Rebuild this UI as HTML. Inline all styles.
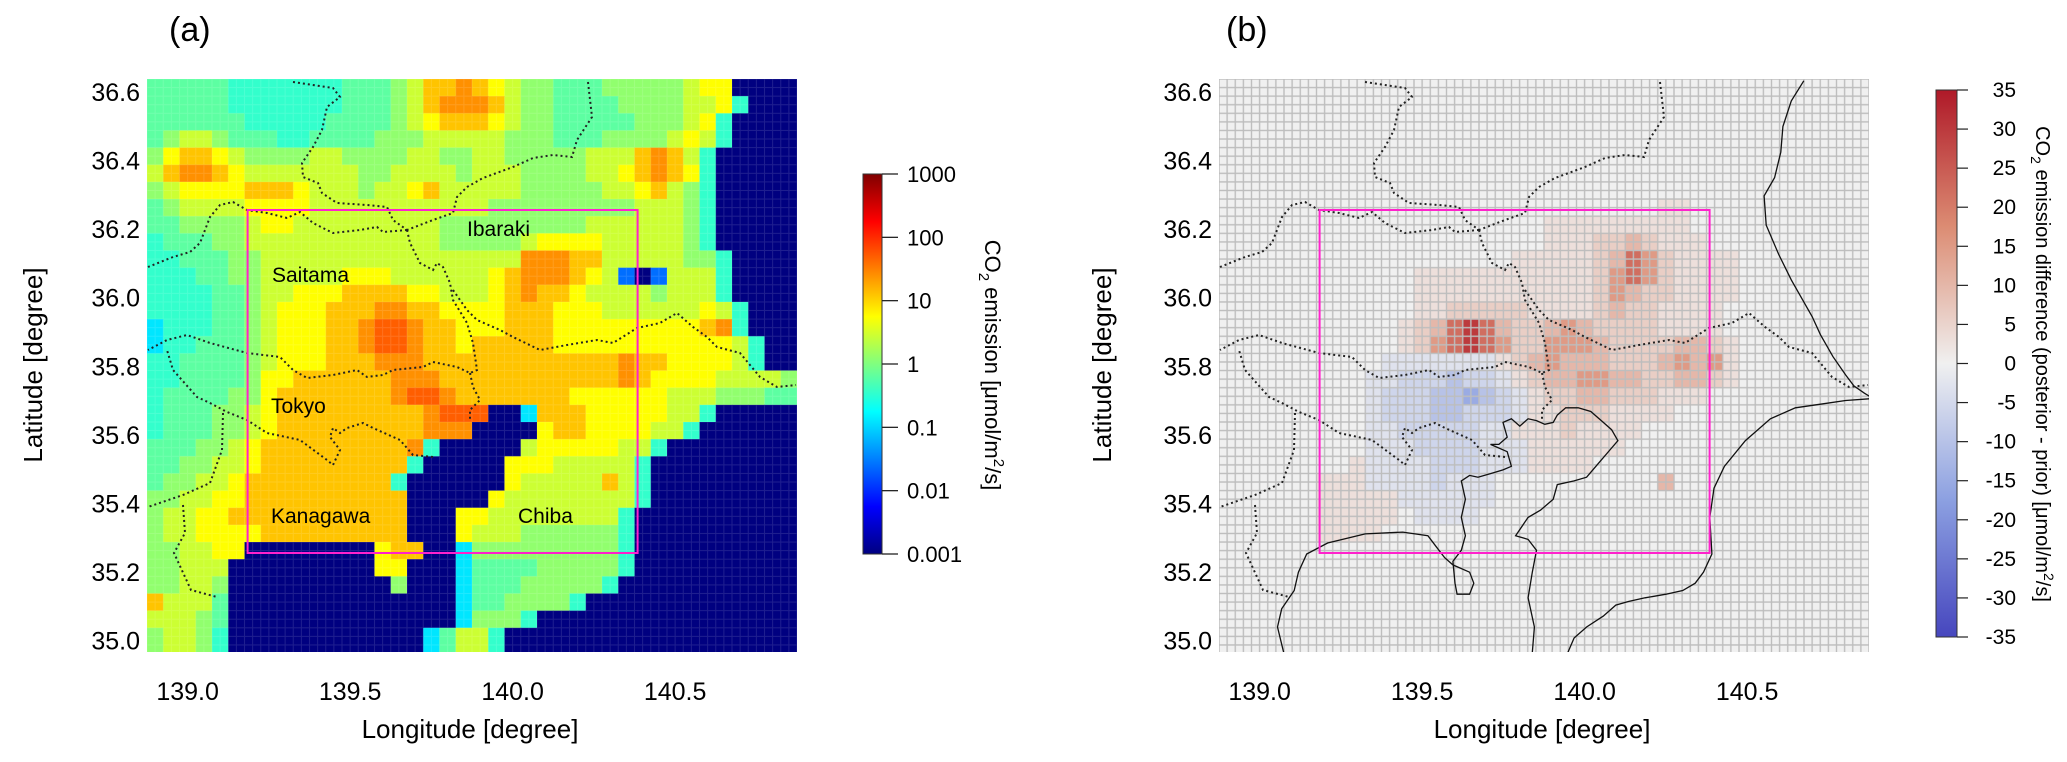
<!DOCTYPE html>
<html><head><meta charset="utf-8">
<style>
html,body{margin:0;padding:0;background:#fff;}
svg{display:block;font-family:"Liberation Sans",Arial,sans-serif;}
</style></head>
<body>
<svg id="fig" xmlns="http://www.w3.org/2000/svg" width="2067" height="762" viewBox="0 0 2067 762">
<defs>
  <linearGradient id="jetGrad" x1="0" y1="1" x2="0" y2="0">
    <stop offset="0" stop-color="#000080"/><stop offset="0.125" stop-color="#0000ff"/>
    <stop offset="0.375" stop-color="#00ffff"/><stop offset="0.625" stop-color="#ffff00"/>
    <stop offset="0.875" stop-color="#ff0000"/><stop offset="1" stop-color="#800000"/>
  </linearGradient>
  <linearGradient id="cwGrad" x1="0" y1="1" x2="0" y2="0">
    <stop offset="0" stop-color="#4646be"/><stop offset="0.25" stop-color="#8ca0e1"/>
    <stop offset="0.5" stop-color="#f0f0f0"/><stop offset="0.75" stop-color="#dc8c73"/>
    <stop offset="1" stop-color="#af1928"/>
  </linearGradient>
  <pattern id="gridB" x="1219" y="79" width="8.125" height="8.575" patternUnits="userSpaceOnUse">
    <rect x="0" y="0" width="8.125" height="8.575" fill="none" stroke="#bdbdbd" stroke-width="1.4"/>
  </pattern>
  <pattern id="gridA" x="147" y="79" width="8.125" height="8.575" patternUnits="userSpaceOnUse">
    <rect x="0" y="0" width="8.125" height="8.575" fill="none" stroke="rgba(255,255,255,0.12)" stroke-width="1"/>
  </pattern>
  <clipPath id="clipA"><rect x="147" y="79" width="650" height="573"/></clipPath>
  <clipPath id="clipB"><rect x="1219" y="79" width="650" height="573"/></clipPath>
</defs>

<text x="169" y="41" font-size="34">(a)</text>
<text x="1226" y="41" font-size="34">(b)</text>

<g id="mapA" clip-path="url(#clipA)"></g>
<rect x="147" y="79" width="650" height="573" fill="url(#gridA)"/>
<g id="bordersA"></g>
<rect x="247.6" y="210" width="390" height="343" fill="none" stroke="#ff22cc" stroke-width="2"/>

<g font-size="21">
  <text x="467" y="236">Ibaraki</text>
  <text x="272" y="282">Saitama</text>
  <text x="271" y="413">Tokyo</text>
  <text x="271" y="523">Kanagawa</text>
  <text x="518" y="523">Chiba</text>
</g>

<rect x="1219" y="79" width="650" height="573" fill="#f0f0f0"/>
<g id="mapB" clip-path="url(#clipB)"></g>
<rect x="1219" y="79" width="650" height="573" fill="url(#gridB)"/>
<g id="coastB" clip-path="url(#clipB)"></g>
<g id="bordersB"></g>
<rect x="1319.6" y="210" width="390" height="343" fill="none" stroke="#ff22cc" stroke-width="2"/>

<g id="axes" font-size="25"></g>

<text transform="translate(470,738)" text-anchor="middle" font-size="26">Longitude [degree]</text>
<text transform="translate(1542,738)" text-anchor="middle" font-size="26">Longitude [degree]</text>
<text transform="translate(42,365) rotate(-90)" text-anchor="middle" font-size="26">Latitude [degree]</text>
<text transform="translate(1111,365) rotate(-90)" text-anchor="middle" font-size="26">Latitude [degree]</text>

<rect x="863" y="174" width="19" height="380" fill="url(#jetGrad)" stroke="#333" stroke-width="1"/>
<g id="cbA" font-size="22"></g>
<text transform="translate(985,365) rotate(90)" text-anchor="middle" font-size="22">CO<tspan font-size="15" dy="6">2</tspan><tspan dy="-6"> emission [μmol/m</tspan><tspan font-size="15" dy="-9">2</tspan><tspan dy="9">/s]</tspan></text>

<rect x="1936" y="90" width="21" height="547" fill="url(#cwGrad)" stroke="#333" stroke-width="1"/>
<g id="cbB" font-size="21"></g>
<text transform="translate(2036,364) rotate(90)" text-anchor="middle" font-size="20">CO<tspan font-size="14" dy="5">2</tspan><tspan dy="-5"> emission difference (posterior - prior) [μmol/m</tspan><tspan font-size="14" dy="-8">2</tspan><tspan dy="8">/s]</tspan></text>
</svg>

<script>
// ---- data: panel (a) emission grid (0.05 deg cells, codes -> log10 values) ----
const gridLon0 = 138.875;
const gridLat0 = 36.6375;
const gridStep = 0.05;
const codeLevels = {'0':-3,'1':-1.6,'2':-0.9,'3':-0.45,'4':-0.2,'5':0.1,'6':0.45,'7':0.75,'8':1.1,'9':1.4,'a':1.7};
const emissionRows = [
"4444433333"+"3344456889"+"8765544455"+"5556770000",
"4444433333"+"3344456899"+"9865544445"+"5556673000",
"4444443333"+"3444456788"+"8765544444"+"5556730000",
"4566544433"+"4444555666"+"6655544455"+"5567630000",
"5788765555"+"6655556655"+"6655555666"+"8986300000",
"6899876666"+"6665566665"+"6665555667"+"8987300000",
"5677778887"+"6665667866"+"6665555566"+"7865300000",
"4566667777"+"6666666666"+"6555555555"+"6665300000",
"4455556776"+"6666666655"+"5555555666"+"6665300000",
"3444556666"+"6666666655"+"5556777766"+"6665300000",
"3344455666"+"6666666666"+"6669998866"+"6665530000",
"3334455666"+"6677766666"+"6789998761"+"0166630000",
"3333445667"+"7788887766"+"6789887666"+"6566630000",
"3333445677"+"7888998877"+"7788877766"+"6666763000",
"2333445677"+"7889aa9887"+"7788877777"+"7777893000",
"2334445677"+"7889aa9887"+"8888877777"+"7777776300",
"3344445677"+"7888999888"+"8888888889"+"8877776300",
"3344445778"+"8888899988"+"8888888889"+"8777766665",
"3444455788"+"888889aa98"+"8888887777"+"7766655544",
"3444556788"+"88888889aa"+"a002888777"+"7766300000",
"3444556788"+"8888888999"+"0000788777"+"7663000000",
"4445567888"+"8888889300"+"0006777776"+"6300000000",
"4455667888"+"8888883000"+"0077766666"+"3000000000",
"4556678888"+"8888830000"+"0076666686"+"3000000000",
"5566778888"+"8888880000"+"0766666666"+"3000000000",
"5667788888"+"8888880007"+"7666666663"+"0000000000",
"5667777888"+"8888880007"+"6665555553"+"0000000000",
"5566770000"+"0000788002"+"5555555553"+"0000000000",
"5566600000"+"0000770002"+"4444555553"+"0000000000",
"5566500000"+"0000050002"+"4445555530"+"0000000000",
"8666400000"+"0000000002"+"4455553000"+"0000000000",
"6665400000"+"0000000002"+"5553000000"+"0000000000",
"5665300000"+"0000000246"+"6300000000"+"0000000000",
"5665300000"+"0000000246"+"6300000000"+"0000000000"
];
// ---- data: panel (b) difference grid segments (same 0.05 deg grid) ----
const diffCodeValues = {'.':0,'p':3,'q':6,'r':10,'s':15,'t':22,'u':30,'b':-3,'c':-6,'d':-10,'e':-15};
const diffSegRow   = [7, 8, 9, 10, 11, 12, 13, 14, 15, 16, 17, 18, 19, 20, 21, 22, 23, 23, 24, 25, 26];
const diffSegCol   = [27, 20, 20, 18, 12, 12, 12, 11, 11, 10, 9, 9, 9, 9, 9, 8, 6, 27, 6, 6, 6];
const diffSegCodes = [
 "pp",
 "ppppppppp",
 "pppqqrqppp",
 "pppppqrtsqpppp",
 "pppppppppppqstsqpppp",
 "pppppppppppqsrqqpppp",
 "ppqqqqqppppqrqqpppp",
 "pqrtutrqqrsrqqqqpppp",
 "pqstutsqqsssrqqqqrrqp",
 "bbbbbbbpqrsrrrqqqrsrsp",
 "bbcccdccbpqrrssrrqqrrqp",
 "bcccddedcbpqqrrqqqppp",
 "bcccddcccbppqqqpppp",
 "bbcccccbbpppqpppp",
 "bbbccccbbbpppppp",
 "pbbbbcccbbbpppp",
 "pppbbbbcbbb",
 "r",
 "pppppbbbbbb",
 "ppppp.bbbb",
 "pppp"
];
// ---- axis tick labels ----
const lonTicks = [139.0,139.5,140.0,140.5];
const lonTickLabels = ["139.0","139.5","140.0","140.5"];
const latTicks = [35.0,35.2,35.4,35.6,35.8,36.0,36.2,36.4,36.6];
const latTickLabels = ["35.0","35.2","35.4","35.6","35.8","36.0","36.2","36.4","36.6"];
const cbATicks = [-3,-2,-1,0,1,2,3];
const cbATickLabels = ["0.001","0.01","0.1","1","10","100","1000"];
const cbBTicks = [-35,-30,-25,-20,-15,-10,-5,0,5,10,15,20,25,30,35];

const NS = "http://www.w3.org/2000/svg";
const PX_PER_LON = 325, PX_PER_LAT = 343;
const A_X0 = 147, B_X0 = 1219, Y0 = 79, Y1 = 652;
const LON_MIN = 138.875, LAT_MAX = 36.6375;
function xScale(lon, x0){ return x0 + (lon - LON_MIN) * PX_PER_LON; }
function yScale(lat){ return Y0 + (LAT_MAX - lat) * PX_PER_LAT; }
function cbAScale(v){ return 554 - (v + 3) / 6 * 380; }
function cbBScale(v){ return 637 - (v + 35) / 70 * 547; }

function clamp(v){ return Math.max(0, Math.min(1, v)); }
function jet(v){
  const t = (v + 3) / 6;
  const r = clamp(1.5 - Math.abs(4*t - 3)), g = clamp(1.5 - Math.abs(4*t - 2)), b = clamp(1.5 - Math.abs(4*t - 1));
  return `rgb(${Math.round(r*255)},${Math.round(g*255)},${Math.round(b*255)})`;
}
const cwStops = [[-35,[70,70,190]],[-17.5,[140,160,225]],[0,[240,240,240]],[17.5,[220,140,115]],[35,[175,25,40]]];
function coolwarm(v){
  v = Math.max(-35, Math.min(35, v));
  for (let i = 0; i < cwStops.length - 1; i++){
    const [a, ca] = cwStops[i], [b, cb] = cwStops[i+1];
    if (v <= b){
      const f = (v - a) / (b - a);
      return `rgb(${ca.map((c,k)=>Math.round(c + (cb[k]-c)*f)).join(',')})`;
    }
  }
  return 'rgb(175,25,40)';
}
function cellRect(i, j, x0, fill){
  const lonW = gridLon0 + i * gridStep, latN = gridLat0 - j * gridStep;
  const x = xScale(lonW, x0), y = yScale(latN);
  const w = xScale(lonW + gridStep, x0) - x, h = yScale(latN - gridStep) - y;
  const r = document.createElementNS(NS, 'rect');
  r.setAttribute('x', x.toFixed(2)); r.setAttribute('y', y.toFixed(2));
  r.setAttribute('width', (w + 0.4).toFixed(2)); r.setAttribute('height', (h + 0.4).toFixed(2));
  r.setAttribute('fill', fill);
  return r;
}

// panel (a) cells
const mapA = document.getElementById('mapA');
emissionRows.forEach((row, j) => {
  for (let i = 0; i < row.length; i++){
    const r = cellRect(i, j, A_X0, jet(codeLevels[row[i]]));
    
    
    mapA.appendChild(r);
  }
});

// panel (b) cells
const mapB = document.getElementById('mapB');
diffSegCodes.forEach((codes, k) => {
  for (let c = 0; c < codes.length; c++){
    const v = diffCodeValues[codes[c]];
    if (v === 0) continue;
    const r = cellRect(diffSegCol[k] + c, diffSegRow[k], B_X0, coolwarm(v));
    
    
    mapB.appendChild(r);
  }
});

// prefecture borders (panel-a pixel coordinates; reused shifted for panel b)
const borders = [
 [[293,82],[333,88],[340,97],[327,107],[322,130],[313,147],[302,163],[303,177],[318,183],[322,193],[337,203],[367,205],[387,207],[393,220],[407,230]],
 [[588,82],[592,117],[577,140],[572,157],[553,155],[533,158],[513,167],[483,178],[467,187],[457,197],[453,213],[433,220],[407,230]],
 [[407,230],[383,232],[377,227],[360,230],[333,233],[313,223],[300,212],[287,218],[267,213],[247,210],[233,202],[220,205],[210,217],[200,243],[190,252],[173,257],[148,267]],
 [[407,230],[410,243],[420,263],[433,270],[437,263],[443,267],[450,283],[453,300],[467,323],[473,343],[477,370],[470,373],[457,367],[433,362],[423,367],[393,370],[383,375],[367,377],[357,370],[333,375],[307,378],[293,370],[280,357],[247,353],[210,343],[187,335],[167,340],[148,350]],
 [[453,290],[467,310],[477,320],[500,330],[513,337],[540,350],[567,345],[597,340],[613,343],[637,328],[660,323],[677,313],[693,327],[707,337],[717,347],[740,353],[760,377],[777,387],[796,385]],
 [[470,373],[473,387],[480,400],[470,410],[470,420]],
 [[433,457],[413,455],[400,440],[373,428],[363,423],[347,428],[340,433],[333,428],[330,437],[340,450],[333,465],[327,460],[300,440],[267,433],[247,420],[227,412],[210,403],[197,397],[173,370],[167,350]],
 [[223,413],[222,450],[210,483],[183,495],[148,507]],
 [[183,505],[185,533],[174,553],[191,590],[217,597]]
];
function addBorders(gid, dx){
  const g = document.getElementById(gid);
  borders.forEach(pts => {
    const p = document.createElementNS(NS, 'polyline');
    p.setAttribute('points', pts.map(q => (q[0]+dx)+','+q[1]).join(' '));
    p.setAttribute('fill', 'none'); p.setAttribute('stroke', '#222');
    p.setAttribute('stroke-width', '2'); p.setAttribute('stroke-dasharray', '2 3');
    
    
    g.appendChild(p);
  });
}
addBorders('bordersA', 0);
addBorders('bordersB', B_X0 - A_X0);

// coastline panel b (traced in plot-relative units, scaled to pixels)
const coastTraces = [
 [[1400,5],[1370,60],[1350,130],[1345,200],[1330,270],[1305,320],[1310,400],[1340,480],[1370,550],[1400,610],[1420,650],[1440,700],[1470,760],[1500,810],[1520,840],[1545,860],[1560,870]],
 [[1560,875],[1500,880],[1440,890],[1380,900],[1320,930],[1260,990],[1210,1060],[1185,1120],[1175,1200],[1180,1300],[1160,1350],[1140,1380],[1110,1400],[1070,1410],[1020,1420],[980,1430],[950,1440],[920,1470],[880,1500],[850,1530],[835,1570]],
 [[750,1570],[755,1500],[740,1420],[750,1350],[760,1290],[740,1260],[710,1250],[740,1200],[770,1180],[800,1150],[810,1110],[850,1100],[880,1090],[910,1050],[940,1010],[955,990],[940,960],[920,940],[890,910],[860,900],[830,900],[810,920],[800,940],[780,945],[760,935],[740,930],[720,950],[700,930],[680,940],[690,980],[670,1000],[650,1000],[690,1020],[700,1060],[680,1070],[650,1080],[620,1090],[600,1085],[580,1100],[590,1150],[580,1200],[590,1250],[580,1290],[560,1320],[565,1380],[570,1410],[600,1410],[610,1380],[600,1350],[560,1330],[540,1310],[520,1280],[500,1250],[440,1240],[350,1245],[260,1270],[210,1300],[190,1350],[180,1400],[150,1450],[140,1500],[155,1570]]
];
const coastG = document.getElementById('coastB');
coastTraces.forEach(pts => {
  const p = document.createElementNS(NS, 'polyline');
  p.setAttribute('points', pts.map(q => (B_X0 + q[0]/2.394).toFixed(1)+','+(Y0 + q[1]/2.737).toFixed(1)).join(' '));
  p.setAttribute('fill', 'none'); p.setAttribute('stroke', '#111'); p.setAttribute('stroke-width', '1.3');
  
  
  coastG.appendChild(p);
});

// axes labels
const axes = document.getElementById('axes');
[A_X0, B_X0].forEach(x0 => {
  lonTicks.forEach((lon, k) => {
    const t = document.createElementNS(NS, 'text');
    t.setAttribute('x', xScale(lon, x0).toFixed(1)); t.setAttribute('y', 700);
    t.setAttribute('text-anchor', 'middle');
    
    
    t.textContent = lonTickLabels[k];
    axes.appendChild(t);
  });
  latTicks.forEach((lat, k) => {
    const t = document.createElementNS(NS, 'text');
    t.setAttribute('x', x0 - 7); t.setAttribute('y', (yScale(lat) + 9).toFixed(1));
    t.setAttribute('text-anchor', 'end');
    
    
    t.textContent = latTickLabels[k];
    axes.appendChild(t);
  });
});

// colorbar ticks
const cbA = document.getElementById('cbA');
cbATicks.forEach((v, k) => {
  const y = cbAScale(v);
  const l = document.createElementNS(NS, 'line');
  l.setAttribute('x1', 882); l.setAttribute('x2', 898); l.setAttribute('y1', y); l.setAttribute('y2', y);
  l.setAttribute('stroke', '#222'); l.setAttribute('stroke-width', '1.3');
  
  
  cbA.appendChild(l);
  const t = document.createElementNS(NS, 'text');
  t.setAttribute('x', 907); t.setAttribute('y', y + 8);
  
  
  t.textContent = cbATickLabels[k];
  cbA.appendChild(t);
});
const cbB = document.getElementById('cbB');
cbBTicks.forEach(v => {
  const y = cbBScale(v);
  const l = document.createElementNS(NS, 'line');
  l.setAttribute('x1', 1957); l.setAttribute('x2', 1968); l.setAttribute('y1', y); l.setAttribute('y2', y);
  l.setAttribute('stroke', '#222'); l.setAttribute('stroke-width', '1.2');
  
  
  cbB.appendChild(l);
  const t = document.createElementNS(NS, 'text');
  t.setAttribute('x', 2016); t.setAttribute('y', y + 7);
  t.setAttribute('text-anchor', 'end');
  
  
  t.textContent = String(v);
  cbB.appendChild(t);
});
</script>
</body></html>
